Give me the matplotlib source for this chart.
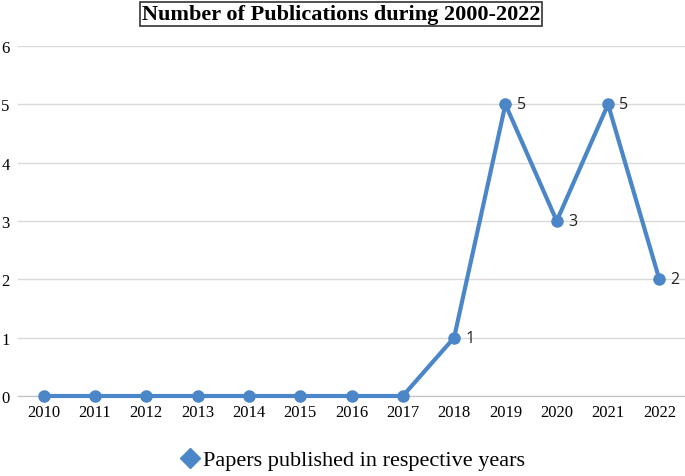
import matplotlib
matplotlib.use("Agg")
import matplotlib.pyplot as plt
from matplotlib.lines import Line2D

years = ["2010", "2011", "2012", "2013", "2014", "2015", "2016", "2017",
         "2018", "2019", "2020", "2021", "2022"]
papers = [0, 0, 0, 0, 0, 0, 0, 0, 1, 5, 3, 5, 2]
yticks = [0, 1, 2, 3, 4, 5, 6]
title = "Number of Publications during 2000-2022"
legend_label = "Papers published in respective years"

color = "#4A86C8"
serif = ["Liberation Serif", "DejaVu Serif"]
sans = ["Open Sans", "DejaVu Sans"]

fig = plt.figure(figsize=(6.85, 4.77), dpi=100)
ax = fig.add_axes([18/685, 80/477, 1 - 18/685, 350/477])

x = list(range(len(years)))
ax.plot(x, papers, color=color, lw=3.0, marker="o", ms=8,
        markerfacecolor=color, markeredgecolor=color, zorder=3, clip_on=False)

for xi, v in zip(x, papers):
    if v > 0:
        ax.annotate(str(v), (xi, v), xytext=(8, 0), textcoords="offset points",
                    ha="left", va="center", fontsize=11.5, family=sans, color="#222222")
        ax.annotate("", xy=(xi + 0.1, v), xytext=(xi + 0.18, v),
                    arrowprops=dict(arrowstyle="-", color="#888888", lw=0.6))

ax.set_xlim(-0.5, len(years) - 0.5)
ax.set_ylim(0, 6)
ax.set_yticks(yticks)
ax.set_yticklabels([str(t) for t in yticks], family=serif, fontsize=12)
ax.set_xticks(x)
ax.set_xticklabels(years, family=serif, fontsize=12)
ax.grid(axis="y", color="#D9D9D9", lw=1.0)
ax.set_axisbelow(True)
for s in ["top", "right", "left"]:
    ax.spines[s].set_visible(False)
ax.spines["bottom"].set_color("#BFBFBF")
ax.tick_params(axis="y", length=0, pad=6)
ax.tick_params(axis="x", length=0, pad=6)

fig.text(341/685, 1 - 15/477, title, ha="center", va="center",
         fontsize=16, fontweight="bold", family=serif,
         bbox=dict(boxstyle="square,pad=0.1", fc="white", ec="#333333", lw=1.2))

handle = Line2D([], [], color=color, marker="D", ls="none", ms=10)
fig.legend([handle], [legend_label], loc="center", bbox_to_anchor=(352/685, 1 - 461/477),
           frameon=False, prop={"family": serif, "size": 16}, handletextpad=0.1,
           handlelength=1.0)

fig.savefig("out.png", dpi=100)
